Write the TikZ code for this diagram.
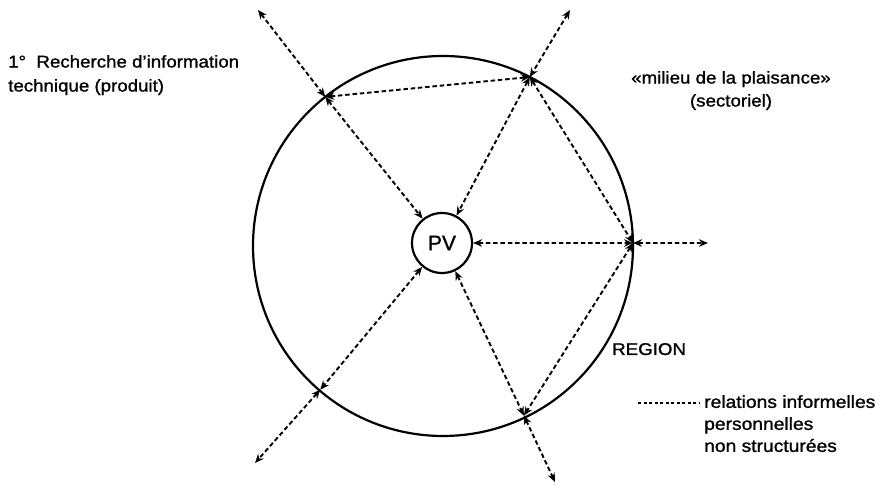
\documentclass[tikz,border=0pt]{standalone}
\usepackage{fontspec}
\setmainfont{Liberation Sans}[FakeStretch=1.1,FakeBold=1.2]
\newfontfamily\pvfont{Liberation Sans}[FakeBold=1.2]
\usetikzlibrary{arrows.meta}
\begin{document}
\begin{tikzpicture}[x=1pt,y=1pt,
  con/.style={line width=1.9pt, dash pattern=on 4.5pt off 2.8pt,
    {Stealth[length=9pt,width=7.5pt]}-{Stealth[length=9pt,width=7.5pt]}},
  lbl/.style={inner sep=0pt, font=\fontsize{17}{24}\selectfont},
  ring/.style={line width=2.2pt}]
\useasboundingbox (0,0) rectangle (887,486);
\coordinate (c) at (443,240);
\draw[ring] (c) circle (190);
\node[circle, draw, ring, minimum size=60pt, inner sep=0pt,
  font=\pvfont\fontsize{21}{21}\selectfont] (pv) at (442,243) {PV};
% points on the region circle
\coordinate (ul) at ([shift={(128.3:190)}]c);
\coordinate (ur) at ([shift={(62.8:190)}]c);
\coordinate (r)  at ([shift={(0.9:190)}]c);
\coordinate (lr) at ([shift={(-64.5:188)}]c);
\coordinate (ll) at ([shift={(-130.5:189)}]c);
% outer ends
\coordinate (ulo) at (258,476);
\coordinate (uro) at (570,476);
\coordinate (ro)  at (708,243);
\coordinate (lro) at (555,4);
\coordinate (llo) at (255,23);
% connectors
\draw[con] (ulo) -- (ul);
\draw[con] (ul) -- (pv);
\draw[con] (ul) -- (ur);
\draw[con] (uro) -- (ur);
\draw[con] (ur) -- (pv);
\draw[con] (ur) -- (r);
\draw[con] (pv) -- (r);
\draw[con] (r) -- (ro);
\draw[con] (r) -- (lr);
\draw[con] (pv) -- (lr);
\draw[con] (lr) -- (lro);
\draw[con] (pv) -- (ll);
\draw[con] (ll) -- (llo);
% labels
\node[lbl, anchor=north west, align=left] (t1) at (8,431)
  {1°\ \ Recherche d’information\\technique (produit)};
\node[lbl, anchor=north, align=center, font=\fontsize{17}{23}\selectfont] (t2) at (731,415)
  {«milieu de la plaisance»\\(sectoriel)};
\node[lbl, anchor=base west] (reg) at (612,131) {REGION};
\node[lbl, anchor=north west, align=left, font=\fontsize{17.5}{22}\selectfont] (leg) at (704,91)
  {relations informelles\\personnelles\\non structurées};
\coordinate (lga) at (638,83);
\coordinate (lgb) at (700,83);
\draw[line width=1.1pt, dash pattern=on 3pt off 2.5pt] (lga) -- (lgb);
\end{tikzpicture}
\end{document}
